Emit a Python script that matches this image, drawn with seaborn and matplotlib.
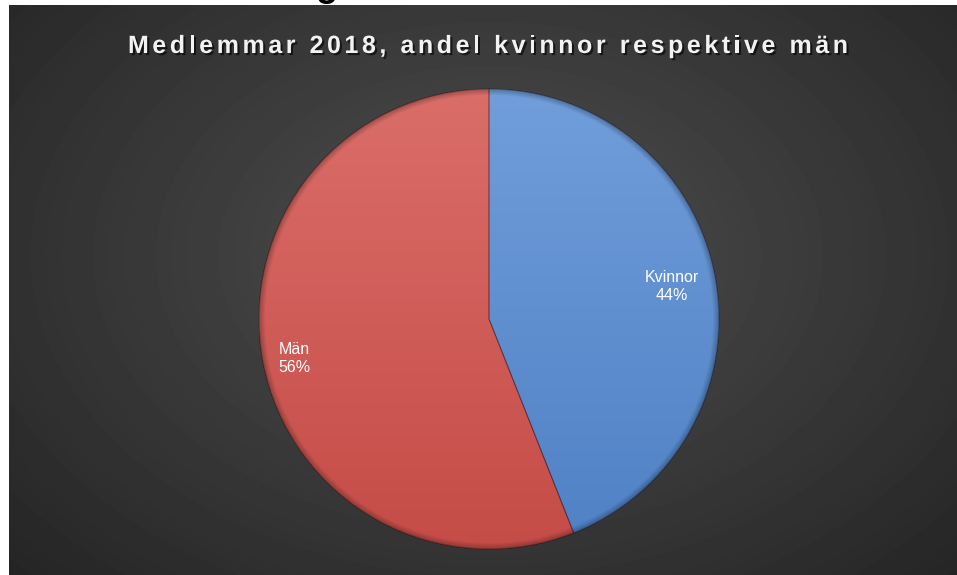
import numpy as np
import matplotlib
matplotlib.use('Agg')
import matplotlib.pyplot as plt
import matplotlib.patheffects as pe
import seaborn as sns

# data
labels = ['Kvinnor', 'Män']
shares = [44, 56]
colors = ['#568bd4', '#d4524d']
title = 'Medlemmar 2018, andel kvinnor respektive män'

sns.set_style('white')
plt.rcParams['font.family'] = ['Liberation Sans', 'DejaVu Sans']

W, H = 957, 575
fig = plt.figure(figsize=(W / 100, H / 100), dpi=100)

# cut-off heading above the chart
fig.text(327 / W, 1 + 3.5 / H, 'g', fontsize=26, fontweight='bold',
         color='black', ha='center', va='baseline')

# dark chart area with radial gradient
bg = fig.add_axes([9 / W, 0, 1 - 9 / W, 570 / H])
yy, xx = np.mgrid[0:570, 0:948]
d = np.sqrt(((xx - 480) / 600) ** 2 + ((yy - 250) / 420) ** 2)
shade = np.clip(0.31 - 0.15 * d, 0.14, 1)
bg.imshow(shade, cmap='gray', vmin=0, vmax=1, aspect='auto',
          extent=(0, 948, 570, 0))
bg.axis('off')

# pie
ax = fig.add_axes([(489 - 230) / W, (575 - 549) / H, 460 / W, 460 / H])
it = iter(labels)
wedges, texts, autotexts = ax.pie(
    shares, colors=colors, startangle=90, counterclock=False,
    autopct=lambda p: f'{next(it)}\n{p:.0f}%', pctdistance=0.82,
    textprops=dict(color='white', fontsize=11.5),
    wedgeprops=dict(linewidth=0.8, edgecolor=(0, 0, 0, 0.25)))
ax.set_xlim(-1, 1)
ax.set_ylim(-1, 1)

# soft gradient on each slice
n = 400
gy, gx = np.mgrid[1:-1:n * 1j, -1:1:n * 1j]
rr = np.sqrt(gx ** 2 + gy ** 2)
for w, c in zip(wedges, colors):
    base = np.array(matplotlib.colors.to_rgb(c))
    t = 0.16 * (gy + 1) / 2
    img = base * (1 - t[..., None]) + t[..., None]
    img = img * (1 - 0.07 * (1 - gy) / 2)[..., None]
    rim = np.clip((rr - 0.975) / 0.025, 0, 1) * 0.25
    img = img * (1 - rim)[..., None]
    im = ax.imshow(np.clip(img, 0, 1), extent=(-1, 1, -1, 1), zorder=w.get_zorder() + 0.1)
    im.set_clip_path(w)
    edge = matplotlib.patches.Wedge((0, 0), 1, w.theta1, w.theta2, fill=False,
                                    lw=0.8, edgecolor=(0, 0, 0, 0.25),
                                    zorder=w.get_zorder() + 0.2)
    ax.add_patch(edge)

for w, t, r in zip(wedges, autotexts, [0.81, 0.86]):
    ang = np.deg2rad((w.theta1 + w.theta2) / 2)
    t.set_position((r * np.cos(ang), r * np.sin(ang) - 0.01))
    t.set_zorder(10)
    t.set_linespacing(1.3)
ax.set_xlim(-1, 1)
ax.set_ylim(-1, 1)

# letter-spaced title with shadow
fig.canvas.draw()
rend = fig.canvas.get_renderer()
props = dict(fontsize=18, fontweight='bold', color='#f2f2f2')


def text_width(s):
    t = fig.text(0, 0, s, **props)
    wdt = t.get_window_extent(rend).width
    t.remove()
    return wdt


space_w = text_width('a a') - text_width('aa')
widths = [space_w if ch == ' ' else text_width(ch) for ch in title]
track = (720 - sum(widths)) / (len(title) - 1)
x = 488 - 360
for ch, wdt in zip(title, widths):
    if ch != ' ':
        fig.text(x / W, (575 - 53) / H, ch, ha='left', va='baseline',
                 path_effects=[pe.withSimplePatchShadow(offset=(1.5, -1.5),
                                                        shadow_rgbFace='black',
                                                        alpha=0.6)],
                 **props)
    x += wdt + track

fig.savefig('out.png', dpi=100, facecolor='white')
